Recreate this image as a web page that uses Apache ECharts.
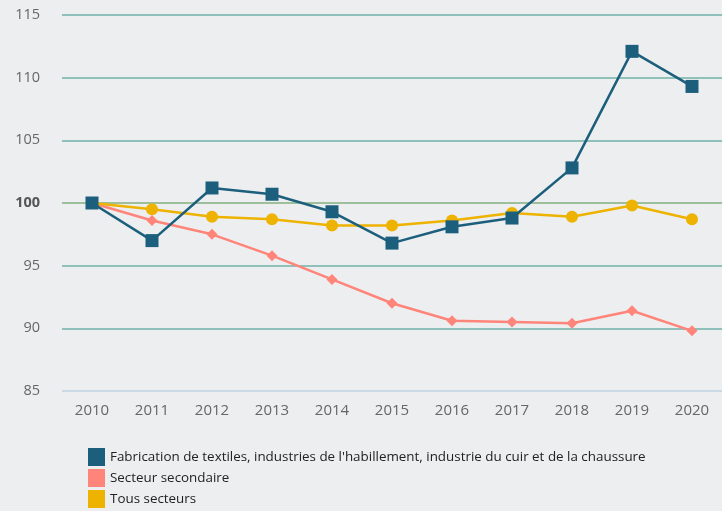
<!doctype html>
<html lang="fr">
<head>
<meta charset="UTF-8">
<title>Indices</title>
<script src="https://cdn.jsdelivr.net/npm/echarts@6/dist/echarts.min.js"></script>
<style>
  html, body { margin: 0; padding: 0; background: #edeef0; }
  #main { width: 722px; height: 511px; }
</style>
</head>
<body>
<div id="main"></div>
<script type="text/javascript">
    var years = ['2010', '2011', '2012', '2013', '2014', '2015', '2016', '2017', '2018', '2019', '2020'];
    var textile = [100, 97.0, 101.2, 100.7, 99.3, 96.8, 98.1, 98.8, 102.8, 112.1, 109.3];
    var secondaire = [100, 98.6, 97.5, 95.8, 93.9, 92.0, 90.6, 90.5, 90.4, 91.4, 89.8];
    var tous = [100, 99.5, 98.9, 98.7, 98.2, 98.2, 98.6, 99.2, 98.9, 99.8, 98.7];
    var names = [
        "Fabrication de textiles, industries de l'habillement, industrie du cuir et de la chaussure",
        'Secteur secondaire',
        'Tous secteurs'
    ];

    var chart = echarts.init(document.getElementById('main'));

    var option = {
        backgroundColor: '#edeef0',
        textStyle: { fontFamily: 'Open Sans' },
        animation: false,
        grid: { left: 62, right: 0, top: 15, bottom: 120 },
        legend: {
            orient: 'vertical',
            left: 88,
            top: 448,
            padding: 0,
            height: 70,
            icon: 'rect',
            itemWidth: 17,
            itemHeight: 18,
            itemGap: 3,
            selectedMode: false,
            textStyle: { fontSize: 13.4, color: '#222', fontFamily: 'Open Sans' },
            data: names
        },
        xAxis: {
            type: 'category',
            data: years,
            boundaryGap: true,
            axisLine: { show: false },
            axisTick: { show: false },
            axisLabel: { fontSize: 15, color: '#666', margin: 12 }
        },
        yAxis: {
            type: 'value',
            min: 85,
            max: 115,
            interval: 5,
            axisLine: { show: false },
            axisTick: { show: false },
            axisLabel: {
                fontSize: 14.5,
                color: '#666',
                margin: 22,
                formatter: function (v) { return v === 100 ? '{b|100}' : String(v); },
                rich: { b: { fontWeight: 'bold', fontSize: 14.5, color: '#555' } }
            },
            splitLine: {
                lineStyle: {
                    color: ['#c9d9e6', '#8fc0b9', '#8fc0b9', '#9dbf9b', '#8fc0b9', '#8fc0b9', '#8fc0b9'],
                    width: 2
                }
            }
        },
        series: [
            {
                name: names[0],
                type: 'line',
                data: textile,
                z: 4,
                symbol: 'rect',
                symbolSize: 13,
                color: '#1c5f7c',
                lineStyle: { width: 2.5 }
            },
            {
                name: names[1],
                type: 'line',
                data: secondaire,
                z: 2,
                symbol: 'diamond',
                symbolSize: 11,
                color: '#ff8479',
                lineStyle: { width: 2.5 }
            },
            {
                name: names[2],
                type: 'line',
                data: tous,
                z: 3,
                symbol: 'circle',
                symbolSize: 12,
                color: '#edb300',
                lineStyle: { width: 2.5 }
            }
        ]
    };

    chart.setOption(option);
</script>
</body>
</html>
